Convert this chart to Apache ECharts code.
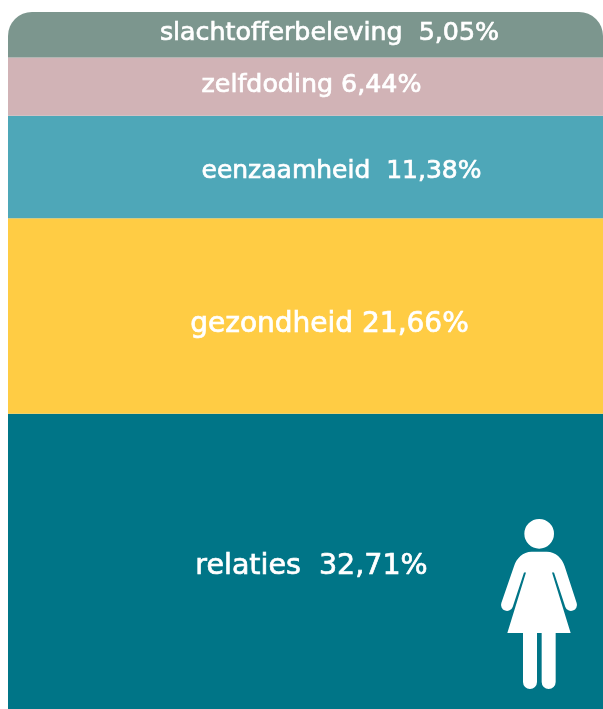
<!DOCTYPE html>
<html>
<head>
<meta charset="utf-8">
<style>
  html, body { margin: 0; padding: 0; background: #fff; }
  #chart { width: 603px; height: 709px; }
</style>
<script src="https://cdn.jsdelivr.net/npm/echarts@6/dist/echarts.min.js"></script>
</head>
<body>
<div id="chart"></div>
<script>
// bottom to top, the order the stack is built in
const names = ['relaties', 'gezondheid', 'eenzaamheid', 'zelfdoding', 'slachtofferbeleving'];
const values = [32.71, 21.66, 11.38, 6.44, 5.05];
const separators = ['  ', ' ', '  ', ' ', '  '];

const colors = ['#007587', '#ffcc44', '#4ea7b8', '#d1b3b6', '#7c968e'];
const labelShift = [[6, 5], [24, 9], [36, 4], [6, -1], [24, -1]];
const labelSize = [28.5, 28, 25, 25.3, 25.3];

const total = values.reduce((a, b) => a + b, 0);

const womanPath = 'path://M155,155 L200,155 C228,155 246,175 254,198 L290,308 A18,18 0 0 1 256,320 L222,217 L216,217 L272,398 L227,398 L227,545 A21,21 0 0 1 185,545 L185,398 L171,398 L171,545 A21,21 0 0 1 129,545 L129,398 L82,398 L138,217 L132,217 L98,320 A18,18 0 0 1 64,308 L102,198 C110,175 128,155 155,155 Z M133,101 A44.5,44.5 0 1 0 222,101 A44.5,44.5 0 1 0 133,101 Z';

const chart = echarts.init(document.getElementById('chart'));
chart.setOption({
    backgroundColor: '#fff',
    animation: false,
    grid: {left: 8, right: 0, top: 12, bottom: 0},
    xAxis: {type: 'category', data: ['vrouwen'], show: false},
    yAxis: {type: 'value', min: 0, max: total, show: false},
    series: values.map((v, i) => ({
        type: 'bar',
        name: names[i],
        stack: 'total',
        barWidth: '100%',
        data: [v],
        itemStyle: {
            color: colors[i],
            borderRadius: i === values.length - 1 ? [24, 24, 0, 0] : 0
        },
        label: {
            show: true,
            position: 'inside',
            offset: labelShift[i],
            color: '#fff',
            fontFamily: 'DejaVu Sans',
            fontWeight: 400,
            fontSize: labelSize[i],
            // a thin outline, the original lettering is a bit heavier than regular
            textBorderColor: '#fff',
            textBorderWidth: 0.7,
            formatter: () => names[i] + separators[i] + String(v.toFixed(2)).replace('.', ',') + '%'
        },
        // the figure in the bottom band
        markPoint: i === 0 ? {
            silent: true,
            symbol: womanPath,
            symbolSize: [76, 170],
            itemStyle: {color: '#fff'},
            label: {show: false},
            data: [{x: 539, y: 604}]
        } : undefined
    }))
});
</script>
</body>
</html>
